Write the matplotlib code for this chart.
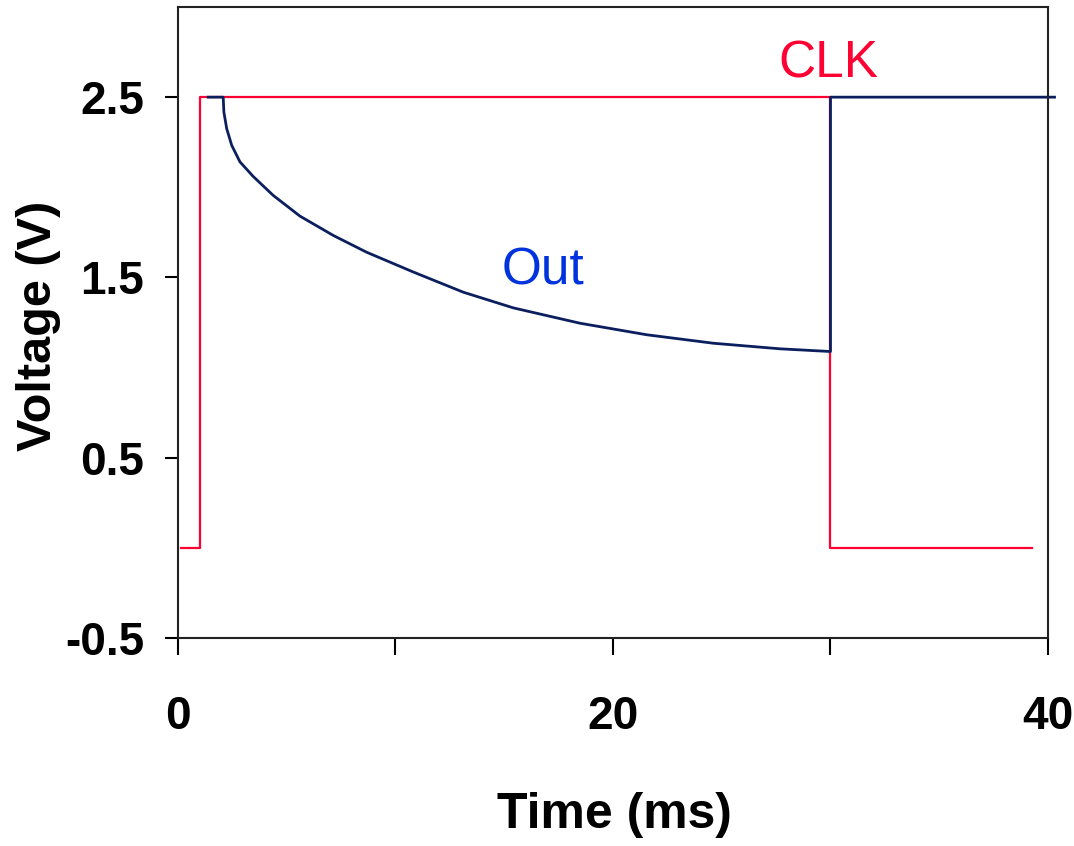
import numpy as np
import matplotlib
matplotlib.use("Agg")
import matplotlib.pyplot as plt

# Datos (tiempo en ms, tensión en V)
clk_t = [0.15, 1.0, 1.0, 30.0, 30.0, 39.25]
clk_v = [0.0, 0.0, 2.5, 2.5, 0.0, 0.0]

out_t = [1.39, 2.08, 2.11, 2.24, 2.47, 2.85, 3.46, 4.38, 5.61, 7.14, 8.67,
         10.82, 13.12, 15.42, 18.48, 21.55, 24.61, 27.68, 30.0, 30.0, 40.3]
out_v = [2.5, 2.5, 2.418, 2.326, 2.233, 2.141, 2.06, 1.955, 1.84, 1.733, 1.64,
         1.530, 1.418, 1.331, 1.246, 1.182, 1.135, 1.104, 1.089, 2.5, 2.5]

xticks = [0, 10, 20, 30, 40]
xlabels = ["0", "", "20", "", "40"]
yticks = [-0.5, 0.5, 1.5, 2.5]
ylabels = ["-0.5", "0.5", "1.5", "2.5"]

fuente = ["Liberation Sans Narrow", "Liberation Sans", "DejaVu Sans"]

fig = plt.figure(figsize=(10.74, 8.46), dpi=100)
ax = fig.add_axes([0.1657, 0.2459, 0.8101, 0.7458])

# Curvas
ax.plot(clk_t, clk_v, color="#ff0033", lw=1.6)
ax.plot(out_t, out_v, color="#0b1f5e", lw=2, clip_on=False)

ax.set_xlim(0, 40)
ax.set_ylim(-0.5, 3.0)

# Ejes y marcas
for s in ax.spines.values():
    s.set_linewidth(1.5)
    s.set_color("#222222")
ax.set_xticks(xticks)
ax.set_xticklabels(xlabels, family=fuente, fontweight="bold", fontsize=33)
ax.set_yticks(yticks)
ax.set_yticklabels(ylabels, family=fuente, fontweight="bold", fontsize=33)
ax.tick_params(axis="x", direction="out", length=12, width=1.5, pad=29)
ax.tick_params(axis="y", direction="out", length=9.5, width=1.5, pad=15)

# Títulos de ejes
ax.set_xlabel("Time (ms)", family=fuente, fontweight="bold", fontsize=36)
ax.xaxis.set_label_coords(0.5017, -0.244)
ax.set_ylabel("Voltage (V)", family="Liberation Sans", fontweight="bold", fontsize=35)
ax.yaxis.set_label_coords(-0.134, 0.494)

# Etiquetas de las señales
ax.text(29.9, 2.684, "CLK", color="#ff0033", fontsize=37, ha="center", va="center",
        family="Liberation Sans")
ax.text(16.76, 1.533, "Out", color="#0033dd", fontsize=37, ha="center", va="center",
        family="Liberation Sans")

fig.savefig("out.png", dpi=100)
